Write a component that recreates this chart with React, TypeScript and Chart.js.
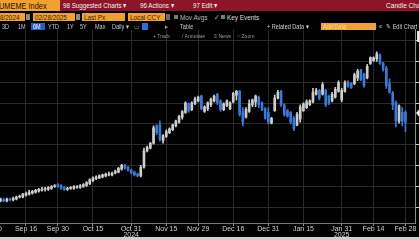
import React, { useEffect, useRef } from "react";
import { Chart, registerables } from "chart.js";

Chart.register(...registerables);

// Daily OHLC, Aug 30 2024 .. Feb 28 2025 (trading-day index 0..130)
const openPx = [
  325.2, 326.2, 327.1, 326.2, 327.1, 326.2, 328.0, 327.1, 328.0, 329.8,
  329.8, 331.7, 332.6, 333.5, 334.5, 335.4, 336.3, 337.2, 337.2, 338.2,
  340.0, 341.8, 340.9, 339.1, 337.2, 338.2, 338.2, 339.1, 339.1, 340.0,
  340.9, 342.8, 345.5, 347.4, 348.3, 349.2, 350.2, 351.1, 351.1, 352.9,
  353.8, 356.6, 360.3, 358.5, 355.7, 353.8, 352.0, 350.2, 358.5, 374.2,
  376.9, 381.5, 398.2, 399.1, 384.3, 388.0, 391.7, 394.5, 398.2, 401.8,
  406.5, 411.1, 419.4, 413.8, 419.4, 422.2, 426.8, 412.0, 414.8, 418.5,
  422.2, 428.6, 422.2, 413.8, 417.5, 414.8, 421.2, 427.7, 431.4, 412.0,
  406.5, 412.0, 418.5, 421.2, 425.8, 420.3, 414.8, 411.1, 400.9, 412.9,
  424.9, 431.4, 418.5, 412.9, 411.1, 405.5, 399.1, 404.6, 412.9, 415.7,
  418.5, 421.2, 428.6, 432.3, 428.6, 432.3, 426.8, 422.2, 425.8, 431.4,
  423.1, 431.4, 440.6, 438.8, 438.8, 444.3, 451.7, 448.0, 444.3, 458.2,
  460.9, 462.8, 466.5, 458.2, 453.5, 438.8, 429.5, 420.3, 402.8, 411.1,
  411.1,
];
const highPx = [
  328.0, 328.9, 328.0, 328.9, 328.9, 328.9, 328.9, 329.8, 330.8, 331.7,
  333.5, 334.5, 336.3, 336.3, 337.2, 338.2, 339.1, 339.1, 340.0, 340.9,
  341.8, 342.8, 341.8, 340.0, 339.1, 340.0, 340.9, 340.9, 341.8, 342.8,
  344.6, 347.4, 349.2, 350.2, 351.1, 352.0, 352.9, 353.8, 353.8, 355.7,
  358.5, 361.2, 361.2, 359.4, 356.6, 354.8, 352.9, 360.3, 376.9, 378.8,
  382.5, 398.2, 399.1, 402.8, 389.8, 394.5, 396.3, 400.0, 403.7, 408.3,
  412.9, 421.2, 420.3, 421.2, 425.8, 426.8, 427.7, 417.5, 421.2, 424.9,
  427.7, 429.5, 423.1, 420.3, 423.1, 421.2, 430.5, 432.3, 432.3, 415.7,
  415.7, 423.1, 424.0, 427.7, 426.8, 421.2, 415.7, 415.7, 406.5, 427.7,
  432.3, 432.3, 419.4, 413.8, 412.0, 407.4, 411.1, 418.5, 420.3, 423.1,
  423.1, 434.2, 434.2, 433.2, 439.7, 433.2, 427.7, 430.5, 435.1, 441.5,
  434.2, 441.5, 441.5, 439.7, 448.9, 452.6, 452.6, 448.9, 457.2, 464.6,
  464.6, 469.2, 467.4, 459.1, 455.4, 443.4, 431.4, 422.2, 418.5, 415.7,
  412.9,
];
const lowPx = [
  324.3, 325.2, 324.3, 325.2, 325.2, 325.2, 326.2, 326.2, 327.1, 328.9,
  328.9, 330.8, 331.7, 332.6, 333.5, 334.5, 335.4, 335.4, 336.3, 337.2,
  339.1, 339.1, 337.2, 336.3, 336.3, 337.2, 337.2, 338.2, 338.2, 339.1,
  340.0, 341.8, 344.6, 346.5, 347.4, 348.3, 349.2, 350.2, 350.2, 352.0,
  352.9, 355.7, 356.6, 354.8, 352.0, 350.2, 349.2, 349.2, 357.5, 373.2,
  376.0, 380.6, 389.8, 383.4, 381.5, 387.1, 390.8, 393.5, 397.2, 400.9,
  404.6, 410.2, 411.1, 412.9, 418.5, 421.2, 413.8, 411.1, 412.9, 416.6,
  421.2, 418.5, 412.0, 412.9, 416.6, 413.8, 420.3, 423.1, 407.4, 398.2,
  405.5, 411.1, 416.6, 416.6, 415.7, 412.9, 404.6, 400.0, 400.0, 412.0,
  424.0, 416.6, 407.4, 406.5, 400.0, 393.5, 398.2, 401.8, 412.0, 414.8,
  417.5, 420.3, 427.7, 423.1, 427.7, 416.6, 418.5, 421.2, 424.9, 430.5,
  421.2, 430.5, 435.1, 434.2, 437.8, 441.5, 441.5, 435.1, 443.4, 457.2,
  460.0, 460.0, 457.2, 450.8, 434.2, 429.5, 413.8, 397.2, 400.9, 398.2,
  392.6,
];
const closePx = [
  327.1, 328.0, 326.2, 328.0, 326.2, 328.0, 327.1, 328.9, 329.8, 330.8,
  332.6, 333.5, 334.5, 335.4, 336.3, 337.2, 337.2, 338.2, 339.1, 340.0,
  340.9, 340.0, 338.2, 337.2, 338.2, 339.1, 340.0, 340.0, 340.9, 341.8,
  343.7, 346.5, 348.3, 349.2, 350.2, 351.1, 352.0, 352.0, 352.9, 354.8,
  357.5, 360.3, 357.5, 355.7, 352.9, 351.1, 350.2, 358.5, 374.2, 377.8,
  381.5, 396.3, 391.7, 385.2, 388.9, 392.6, 395.4, 399.1, 402.8, 407.4,
  412.0, 420.3, 412.9, 420.3, 424.0, 425.8, 414.8, 416.6, 420.3, 424.0,
  426.8, 420.3, 413.8, 419.4, 422.2, 420.3, 429.5, 431.4, 409.2, 401.8,
  413.8, 419.4, 423.1, 426.8, 418.5, 413.8, 405.5, 401.8, 405.5, 424.9,
  430.5, 418.5, 409.2, 407.4, 401.8, 395.4, 409.2, 416.6, 419.4, 421.2,
  422.2, 430.5, 432.3, 424.9, 437.8, 418.5, 420.3, 428.6, 433.2, 439.7,
  432.3, 439.7, 436.0, 435.1, 447.1, 450.8, 442.5, 436.9, 455.4, 463.7,
  463.7, 467.4, 458.2, 452.6, 436.9, 430.5, 418.5, 402.8, 417.5, 402.8,
  401.8,
];

const tickIdx = [0, 11, 21, 32, 44, 55, 65, 76, 87, 98, 110, 120, 130];
const tickDates = [
  "Aug 30", "Sep 16", "Sep 30", "Oct 15", "Oct 31", "Nov 15", "Nov 29",
  "Dec 16", "Dec 31", "Jan 15", "Jan 31", "Feb 14", "Feb 28",
];
const tickYears = ["", "", "", "", "2024", "", "", "", "", "", "2025", "", ""];
const priceTicks = [320, 340, 360, 380, 400, 420, 440, 460, 480];
const lastPriceTag = 410.6;

const UP = "#cdcdcd";
const DOWN = "#3b7ad8";
const GRID = "#2a2a2a";
const ORANGE = "#f0a132";

const tagPlugin = {
  id: "lastTag",
  afterDraw(chart: any) {
    const { ctx, chartArea, scales } = chart;
    const y = scales.y.getPixelForValue(lastPriceTag);
    const x = chartArea.right + 1;
    ctx.save();
    ctx.fillStyle = "#f2f2f2";
    ctx.beginPath();
    ctx.moveTo(x, y);
    ctx.lineTo(x + 3, y - 3.5);
    ctx.lineTo(x + 30, y - 3.5);
    ctx.lineTo(x + 30, y + 3.5);
    ctx.lineTo(x + 3, y + 3.5);
    ctx.closePath();
    ctx.fill();
    ctx.restore();
  },
};

const T = ({ x, y, s = 7, c = "#c8c8c8", sx = 0.85, children }: any) => (
  <div
    style={{
      position: "absolute",
      left: x,
      top: y,
      fontSize: s,
      lineHeight: 1,
      color: c,
      whiteSpace: "nowrap",
      transform: `scaleX(${sx})`,
      transformOrigin: "left top",
    }}
  >
    {children}
  </div>
);

const B = ({ x, y, w, h, bg }: any) => (
  <div style={{ position: "absolute", left: x, top: y, width: w, height: h, background: bg }} />
);

export default function App() {
  const ref = useRef<HTMLCanvasElement>(null);

  useEffect(() => {
    if (!ref.current) return;
    const idx = openPx.map((_, i) => i);
    const colors = idx.map((i) => (closePx[i] >= openPx[i] ? UP : DOWN));
    const chart = new Chart(ref.current, {
      type: "bar",
      data: {
        datasets: [
          {
            data: idx.map((i) => ({ x: i, y: [openPx[i], closePx[i]] })) as any,
            backgroundColor: colors,
            borderWidth: 0,
            barThickness: 2,
            grouped: false,
            order: 0,
          } as any,
          {
            data: idx.map((i) => ({ x: i, y: [lowPx[i], highPx[i]] })) as any,
            backgroundColor: colors,
            borderWidth: 0,
            barThickness: 1,
            grouped: false,
            order: 1,
          } as any,
        ],
      },
      options: {
        responsive: false,
        devicePixelRatio: 1,
        animation: false,
        events: [],
        layout: { padding: 0 },
        plugins: { legend: { display: false }, tooltip: { enabled: false } },
        scales: {
          x: {
            type: "linear",
            min: -9.69,
            max: 132.99,
            offset: false,
            grid: { color: GRID, offset: false, tickLength: 3, tickColor: "#8a8a8a" },
            border: { color: "#7a7a7a" },
            afterBuildTicks: (axis: any) => {
              axis.ticks = tickIdx.map((v) => ({ value: v }));
            },
            afterFit: (axis: any) => {
              axis.height = 17;
            },
            ticks: {
              autoSkip: false,
              maxRotation: 0,
              minRotation: 0,
              padding: 0,
              color: "#d0d0d0",
              font: { family: "'Liberation Sans', Arial, sans-serif", size: 7, lineHeight: 0.86 },
              callback: (_v: any, i: number) =>
                tickYears[i] ? [tickDates[i], tickYears[i]] : tickDates[i],
            },
          },
          y: {
            position: "right",
            min: 304.92,
            max: 490.46,
            grid: { color: GRID, tickLength: 4, tickColor: "#d0d0d0" },
            border: { color: "#8a8a8a" },
            afterBuildTicks: (axis: any) => {
              axis.ticks = priceTicks.map((v) => ({ value: v }));
            },
            afterFit: (axis: any) => {
              axis.width = 54;
            },
            ticks: {
              color: "#d0d0d0",
              padding: 3,
              font: { family: "'Liberation Sans', Arial, sans-serif", size: 8 },
            },
          },
        },
      },
      plugins: [tagPlugin],
    } as any);
    return () => chart.destroy();
  }, []);

  const F = "'Liberation Sans', Arial, sans-serif";

  return (
    <div
      style={{
        position: "fixed",
        left: 0,
        top: 0,
        width: 419,
        height: 240,
        overflow: "hidden",
        background: "#000",
        fontFamily: F,
      }}
    >
      <canvas
        ref={ref}
        width={509}
        height={218}
        style={{ position: "absolute", left: -40, top: 22, width: 509, height: 218 }}
      />

      {/* Row 1: title bar */}
      <B x={0} y={0} w={60} h={11} bg={ORANGE} />
      <B x={60} y={0} w={359} h={11} bg="#8c1529" />
      <T x={-1} y={1.5} s={9} c="#2a1600" sx={0.82}>UMEME Index</T>
      <T x={63} y={2} s={8} c="#f0f0f0" sx={0.78}>98 Suggested Charts ▾</T>
      <T x={140} y={2} s={8} c="#f0f0f0" sx={0.78}>96 Actions ▾</T>
      <T x={193} y={2} s={8} c="#f0f0f0" sx={0.78}>97 Edit ▾</T>
      <T x={386} y={2} s={8} c="#f0f0f0" sx={0.82}>Candle Chart</T>

      {/* Row 2: inputs */}
      <B x={0} y={12} w={419} h={10} bg="#000" />
      <B x={0} y={13} w={25} h={8} bg={ORANGE} />
      <T x={0} y={13.5} s={7.5} c="#3a2200" sx={0.85}>8/2024</T>
      <B x={26} y={14} w={4} h={6} bg="#8a8a8a" />
      <B x={33} y={13} w={42} h={8} bg={ORANGE} />
      <T x={35} y={13.5} s={7.5} c="#3a2200" sx={0.85}>02/28/2025</T>
      <B x={76} y={14} w={4} h={6} bg="#8a8a8a" />
      <B x={82} y={13} w={43} h={8} bg={ORANGE} />
      <T x={84} y={13.5} s={7.5} c="#3a2200" sx={0.85}>Last Px</T>
      <B x={128} y={13} w={37} h={8} bg={ORANGE} />
      <T x={130} y={13.5} s={7.5} c="#3a2200" sx={0.85}>Local CCY</T>
      <B x={166} y={14} w={4} h={6} bg="#6a6a6a" />
      <B x={174} y={15} w={4} h={4} bg="#7a7a7a" />
      <T x={180} y={13.5} s={7.5} c="#bdbdbd" sx={0.85}>Mov Avgs</T>
      <T x={214} y={13.5} s={7.5} c="#bdbdbd" sx={0.85}>✓</T>
      <B x={221} y={15} w={4} h={4} bg="#7a7a7a" />
      <T x={227} y={13.5} s={7.5} c="#dcdcdc" sx={0.85}>Key Events</T>

      {/* Row 3: range buttons (transparent, over chart) */}
      <T x={2} y={23.5} s={6.5}>3D</T>
      <T x={18} y={23.5} s={6.5}>1M</T>
      <B x={31} y={23} w={14} h={7} bg="#1f5fc4" />
      <T x={33} y={23.5} s={6.5} c="#ffffff">6M</T>
      <T x={48} y={23.5} s={6.5}>YTD</T>
      <T x={67} y={23.5} s={6.5}>1Y</T>
      <T x={80} y={23.5} s={6.5}>5Y</T>
      <T x={95} y={23.5} s={6.5}>Max</T>
      <T x={112} y={23.5} s={6.5}>Daily ▾</T>
      <T x={134} y={23.5} s={6.5} c="#9a9a9a">▭</T>
      <B x={142} y={23} w={6} h={7} bg="#2e6fd2" />
      <T x={165} y={23.5} s={6.5} c="#9a9a9a">▸</T>
      <T x={180} y={23.5} s={6.5}>Table</T>
      <T x={267} y={23.5} s={6.5} c="#d0d0d0">+ Related Data ▾</T>
      <B x={321} y={23} w={55} h={7} bg={ORANGE} />
      <T x={323} y={23.5} s={6.5} c="#fbd98a">Add Data</T>
      <T x={379} y={23.5} s={6.5} c="#d0d0d0">«</T>
      <T x={386} y={23.5} s={6.5} c="#d0d0d0">✎ Edit Chart</T>

      {/* Row 4: tools */}
      <T x={153} y={32.5} s={6} c="#9a9a9a">+ Track</T>
      <T x={182} y={32.5} s={6} c="#9a9a9a">/ Annotate</T>
      <T x={214} y={32.5} s={6} c="#9a9a9a">≡ News</T>
      <T x={237} y={32.5} s={6} c="#9a9a9a">○ Zoom</T>
      <B x={417} y={31} w={2} h={11} bg="#e8e8e8" />

      {/* bottom strip */}
      <B x={0} y={237} w={419} h={3} bg="#cfcfcf" />
    </div>
  );
}
